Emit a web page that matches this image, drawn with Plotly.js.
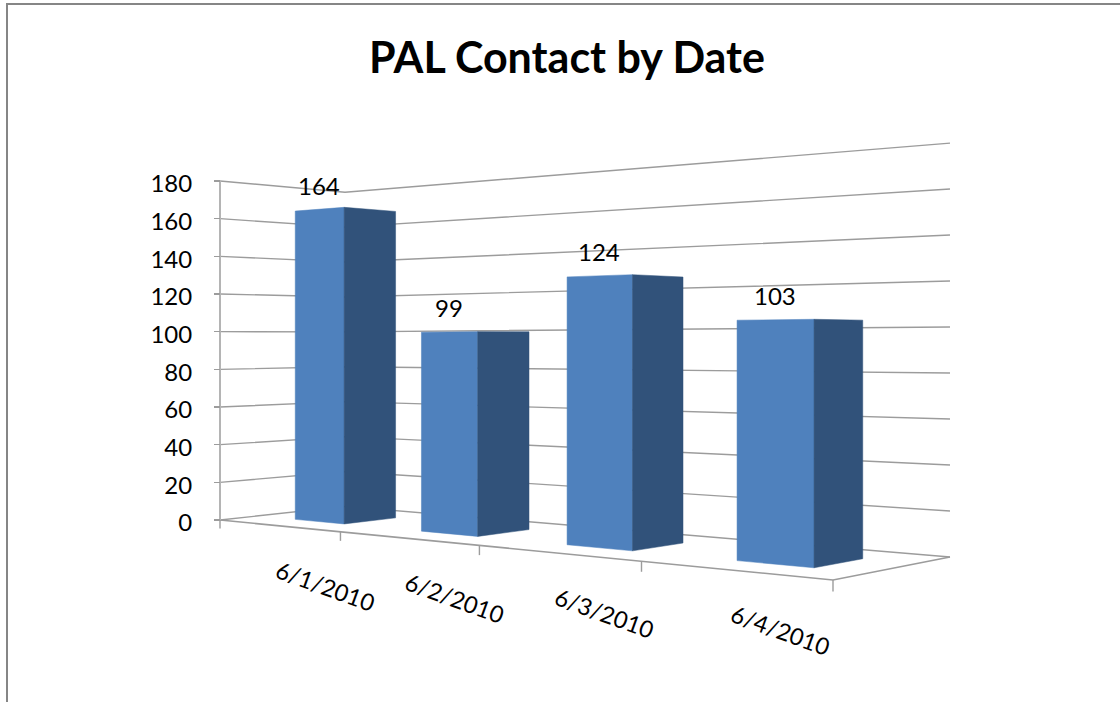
<!DOCTYPE html>
<html>
<head>
<meta charset="utf-8">
<script src="https://cdn.plot.ly/plotly-3.0.1.min.js"></script>
<style>html,body{margin:0;padding:0;background:#fff}#chart{width:1120px;height:702px}</style>
</head>
<body>
<div id="chart"></div>
<script>
const categories = ['6/1/2010', '6/2/2010', '6/3/2010', '6/4/2010'];
const values = [164, 99, 124, 103];
const yTicks = [0, 20, 40, 60, 80, 100, 120, 140, 160, 180];
const titleText = 'PAL Contact by Date';

// Perspective camera: where the floor's corners land on the page
const floorA = [220, 520], floorD = [833, 580], floorC = [950, 557], floorB = [345, 506.4];
const wallTopLeft = 181;
const heightG = -0.26, heightH = 0.079;
const barStart = 0.081, barEnd = 0.182, barFront = 0.29, barBack = 0.70;
const blue = '#4F81BD', blueDark = '#31527A', gridColor = '#9C9C9C', axisColor = '#B4B4B4';

const W = 1120, H = 702;
const vMax = yTicks[yTicks.length - 1];
const pxPerUnit = (floorA[1] - wallTopLeft) / vMax;
const den = (floorD[0]-floorC[0])*(floorB[1]-floorC[1]) - (floorB[0]-floorC[0])*(floorD[1]-floorC[1]);
const sx = floorA[0]-floorD[0]+floorC[0]-floorB[0], sy = floorA[1]-floorD[1]+floorC[1]-floorB[1];
const g = (sx*(floorB[1]-floorC[1]) - (floorB[0]-floorC[0])*sy) / den;
const h = ((floorD[0]-floorC[0])*sy - sx*(floorD[1]-floorC[1])) / den;
const a1 = floorD[0]-floorA[0]+g*floorD[0], a2 = floorB[0]-floorA[0]+h*floorB[0];
const b1 = floorD[1]-floorA[1]+g*floorD[1], b2 = floorB[1]-floorA[1]+h*floorB[1];

// u: along the category axis (0..1), v: value, d: depth (0 front, 1 back)
function project(u, v, d) {
  const w = 1 + g*u + h*d, wh = 1 + heightG*u + heightH*d;
  const x = (a1*u + a2*d + floorA[0]) / w;
  const py = (b1*u + b2*d + floorA[1]) / w - v*pxPerUnit/wh;
  return [x, (floorA[1] - py) / pxPerUnit];
}
function path(pts) {
  const p = pts.map(q => project(q[0], q[1], q[2]));
  return {x: p.map(q => q[0]), y: p.map(q => q[1])};
}
function line(pts, color, width) {
  return Object.assign(path(pts), {type:'scatter', mode:'lines', hoverinfo:'skip', showlegend:false,
    cliponaxis:false, line:{color:color, width:width}});
}
function face(pts, color) {
  const closed = pts.concat([pts[0]]);
  return Object.assign(path(closed), {type:'scatter', mode:'lines', fill:'toself', fillcolor:color,
    hoverinfo:'skip', showlegend:false, cliponaxis:false, line:{color:color, width:0.5}});
}

const traces = [];
yTicks.forEach(t => traces.push(line([[0,t,0],[0,t,1],[1,t,1]], gridColor, 1.4)));
traces.push(line([[0,0,0],[1,0,0],[1,0,1]], gridColor, 1.6));
traces.push(line([[0,0,0],[0,vMax,0]], axisColor, 2));
categories.forEach((c,i) => {
  traces.push(line([[i/categories.length,0,0],[i/categories.length,-4.5,0]], gridColor, 1.4));
});
traces.push(line([[1,0,0],[1,-4.5,0]], gridColor, 1.4));

const n = categories.length;
const annotations = [];
values.forEach((val,i) => {
  const u0 = i/n + barStart, u1 = i/n + barEnd;
  traces.push(face([[u0,0,barFront],[u1,0,barFront],[u1,val,barFront],[u0,val,barFront]], blue));
  traces.push(face([[u1,0,barFront],[u1,0,barBack],[u1,val,barBack],[u1,val,barFront]], blueDark));
  const top = project((u0+u1)/2, val, barFront);
  annotations.push({x:top[0], y:top[1], text:String(val), showarrow:false, yshift:24,
    xanchor:'center', yanchor:'middle', font:{family:'Lato, sans-serif', size:24, color:'#000'}});
  const base = project((i+0.5)/n, 0, 0);
  annotations.push({x:base[0], y:base[1], text:categories[i], showarrow:false, textangle:20,
    xshift:47, yshift:-60, xanchor:'center', yanchor:'middle',
    font:{family:'Lato, sans-serif', size:23.5, color:'#000'}});
});

const layout = {
  width:W, height:H, autosize:false,
  margin:{l:0,r:0,t:0,b:0,pad:0},
  paper_bgcolor:'#fff', plot_bgcolor:'#fff',
  showlegend:false,
  title:{text:'<b>'+titleText+'</b>', x:567/W, xanchor:'center', xref:'paper', y:1-58/H, yanchor:'middle', yref:'container',
    font:{family:'Lato, sans-serif', size:43, color:'#000'}},
  xaxis:{visible:false, range:[0,W], fixedrange:true},
  yaxis:{range:[(floorA[1]-H)/pxPerUnit, floorA[1]/pxPerUnit], anchor:'free', position:floorA[0]/W,
    tickmode:'array', tickvals:yTicks, ticktext:yTicks.map(String), ticks:'outside', ticklen:6, tickwidth:1.4,
    tickcolor:gridColor, showgrid:false, zeroline:false, showline:false, ticklabelstandoff:17, ticklabelshift:3,
    tickfont:{family:'Lato, sans-serif', size:24, color:'#000'}, fixedrange:true},
  annotations:annotations,
  shapes:[{type:'rect', xref:'x', yref:'paper', x0:7, x1:W+10, y0:-0.05, y1:1-4/H, line:{color:'#868686', width:2}, layer:'below'}]
};
Plotly.newPlot('chart', traces, layout, {displayModeBar:false, staticPlot:true});
</script>
</body>
</html>
